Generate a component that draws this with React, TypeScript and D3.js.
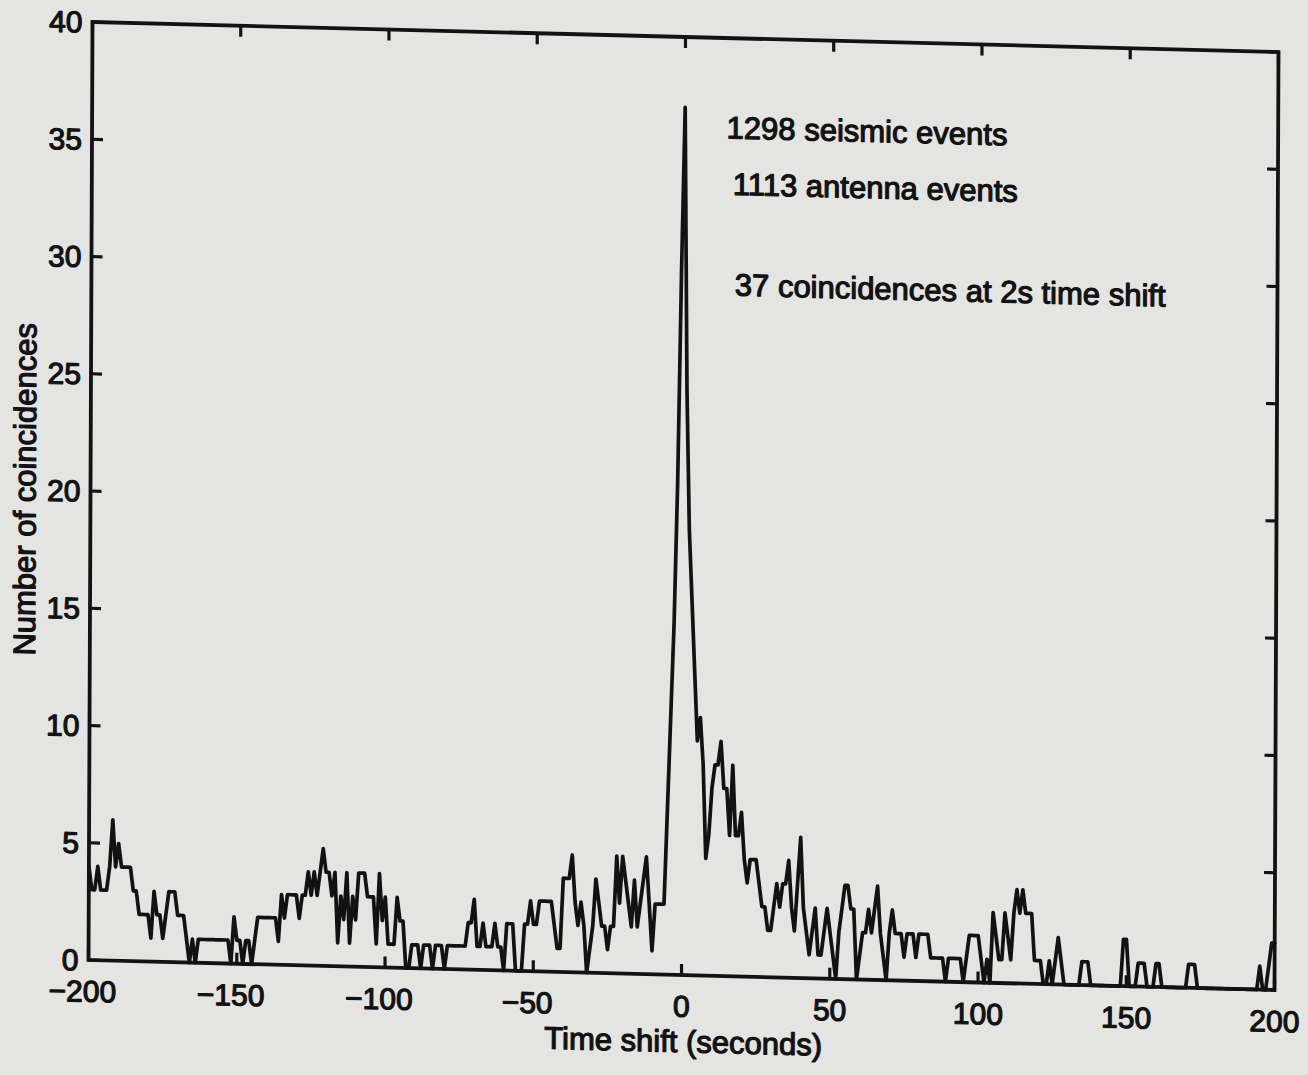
import React from 'react';
import * as d3 from 'd3';

// Time shift between the two event lists (seconds), one bin per second
const shiftSeconds: number[] = d3.range(-200, 201);

// Number of seismic/antenna coincidences found at each time shift
const coincidences: number[] = [
  // -200 .. -93
  4, 3, 3, 4, 3, 3, 3, 4, 6, 4,
  5, 4, 4, 4, 4, 3, 3, 2, 2, 2,
  2, 1, 3, 2, 2, 1, 2, 3, 3, 3,
  2, 2, 2, 1, 0, 1, 0, 1, 1, 1,
  1, 1, 1, 1, 1, 1, 1, 1, 0, 2,
  1, 1, 0, 1, 1, 0, 1, 2, 2, 2,
  2, 2, 2, 2, 1, 3, 2, 3, 3, 3,
  3, 2, 3, 3, 4, 3, 4, 3, 4, 5,
  4, 4, 3, 4, 1, 3, 2, 4, 1, 3,
  2, 4, 4, 4, 3, 3, 3, 1, 4, 2,
  3, 1, 1, 1, 3, 2, 2, 0,
  // -92 .. -3
  0, 1, 1, 1, 0, 1, 1, 1, 0, 1,
  1, 1, 0, 1, 1, 1, 1, 1, 1, 1,
  2, 2, 3, 1, 1, 2, 1, 1, 1, 2,
  1, 1, 0, 2, 2, 2, 0, 0, 0, 2,
  2, 3, 2, 2, 3, 3, 3, 3, 3, 2,
  1, 1, 4, 4, 4, 5, 3, 2, 3, 2,
  0, 1, 2, 4, 3, 2, 2, 1, 2, 2,
  5, 3, 5, 4, 3, 2, 4, 2, 3, 4,
  5, 3, 1, 3, 3, 3, 3, 7, 11, 15,
  // -2 .. 197
  21, 30, 37, 25, 19, 16, 13, 10, 11, 9,
  5, 6, 8, 9, 9, 10, 8, 8, 6, 9,
  6, 6, 7, 5, 4, 5, 5, 5, 4, 3,
  3, 2, 2, 3, 4, 3, 4, 4, 5, 3,
  2, 4, 6, 3, 2, 1, 2, 3, 1, 1,
  2, 3, 2, 1, 0, 2, 3, 4, 4, 3,
  3, 0, 1, 2, 2, 3, 2, 3, 4, 2,
  1, 0, 2, 3, 2, 2, 2, 1, 2, 2,
  2, 1, 2, 2, 2, 2, 1, 1, 1, 1,
  1, 0, 1, 1, 1, 1, 1, 0, 1, 2,
  2, 2, 2, 1, 0, 1, 0, 3, 2, 1,
  1, 3, 2, 1, 3, 4, 3, 4, 3, 3,
  3, 1, 1, 1, 0, 0, 1, 0, 1, 2,
  1, 0, 0, 0, 0, 0, 0, 1, 1, 1,
  0, 0, 0, 0, 0, 0, 0, 0, 0, 0,
  0, 2, 2, 0, 0, 0, 1, 1, 1, 0,
  0, 0, 1, 1, 0, 0, 0, 0, 0, 0,
  0, 0, 0, 1, 1, 1, 0, 0, 0, 0,
  0, 0, 0, 0, 0, 0, 0, 0, 0, 0,
  0, 0, 0, 0, 0, 0, 0, 1, 0, 0,
  // 198 .. 200
  1, 2, 2,
];

const xTicks: number[] = [-200, -150, -100, -50, 0, 50, 100, 150, 200];
const yTicks: number[] = [0, 5, 10, 15, 20, 25, 30, 35, 40];

const noteLines: string[] = [
  '1298 seismic events',
  '1113 antenna events',
  '37 coincidences at 2s time shift',
];

const xTitle = 'Time shift (seconds)';
const yTitle = 'Number of coincidences';

const W = 1186;
const H = 938;
const INK = '#121212';
const PAPER = '#e4e4e2';
const FONT = '"Liberation Sans", Arial, Helvetica, sans-serif';

const fmt = (v: number) => (v < 0 ? '\u2212' + Math.abs(v) : String(v));

export default function App() {
  const x = d3.scaleLinear().domain([-200, 200]).range([0, W]);
  const y = d3.scaleLinear().domain([0, 40]).range([H, 0]);

  const line = d3
    .line<number>()
    .x((_, i) => x(shiftSeconds[i]))
    .y((d) => y(d));

  const tickLen = 11;
  const tickFs = 30;
  const labelFs = 31;
  const textProps = {
    fill: INK,
    stroke: INK,
    strokeWidth: 1.2,
    strokeLinejoin: 'round' as const,
    fontFamily: FONT,
  };

  // the printed page is slightly skewed; the whole figure shares one affine frame
  const frame = 'matrix(1 0.0253 -0.00426 1 92.5 22)';

  const notes = [
    { t: 14, v: 36.2 },
    { t: 16.2, v: 33.8 },
    { t: 17, v: 29.5 },
  ];

  return (
    <svg
      width={1308}
      height={1075}
      style={{ position: 'fixed', left: 0, top: 0, display: 'block' }}
    >
      <rect x={0} y={0} width={1308} height={1075} fill={PAPER} />
      <g transform={frame}>
        {/* data trace */}
        <path
          d={line(coincidences) ?? ''}
          fill="none"
          stroke={INK}
          strokeWidth={3.7}
          strokeLinejoin="round"
          strokeLinecap="round"
        />

        {/* inward ticks on all four sides */}
        {xTicks.map((t) => (
          <g key={'xt' + t}>
            <line x1={x(t)} x2={x(t)} y1={H} y2={H - tickLen} stroke={INK} strokeWidth={3.2} />
            <line x1={x(t)} x2={x(t)} y1={0} y2={tickLen} stroke={INK} strokeWidth={3.2} />
          </g>
        ))}
        {yTicks.map((v) => (
          <g key={'yt' + v}>
            <line x1={0} x2={tickLen} y1={y(v)} y2={y(v)} stroke={INK} strokeWidth={3.2} />
            <line x1={W} x2={W - tickLen} y1={y(v)} y2={y(v)} stroke={INK} strokeWidth={3.2} />
          </g>
        ))}

        {/* plot box */}
        <rect
          x={0}
          y={0}
          width={W}
          height={H}
          fill="none"
          stroke={INK}
          strokeWidth={3.8}
        />

        {/* tick labels */}
        {yTicks.map((v) => (
          <text
            key={'yl' + v}
            x={-10}
            y={y(v) + tickFs * 0.358}
            textAnchor="end"
            fontSize={tickFs}
            {...textProps}
          >
            {fmt(v)}
          </text>
        ))}
        {xTicks.map((t) => (
          <text
            key={'xl' + t}
            x={x(t) + (t < 0 ? -6 : 0)}
            y={H + 31 + tickFs * 0.358}
            textAnchor="middle"
            fontSize={tickFs}
            {...textProps}
          >
            {fmt(t)}
          </text>
        ))}

        {/* axis titles */}
        <text
          x={W / 2 + 2}
          y={H + 66 + labelFs * 0.358}
          textAnchor="middle"
          fontSize={labelFs}
          {...textProps}
        >
          {xTitle}
        </text>
        <text
          transform={`translate(${-66 + labelFs * 0.358},${H / 2}) rotate(-90)`}
          textAnchor="middle"
          fontSize={labelFs}
          {...textProps}
        >
          {yTitle}
        </text>

        {/* annotation */}
        {noteLines.map((s, i) => (
          <text
            key={'n' + i}
            x={x(notes[i].t)}
            y={y(notes[i].v) + labelFs * 0.358}
            fontSize={labelFs}
            {...textProps}
          >
            {s}
          </text>
        ))}
      </g>
    </svg>
  );
}
